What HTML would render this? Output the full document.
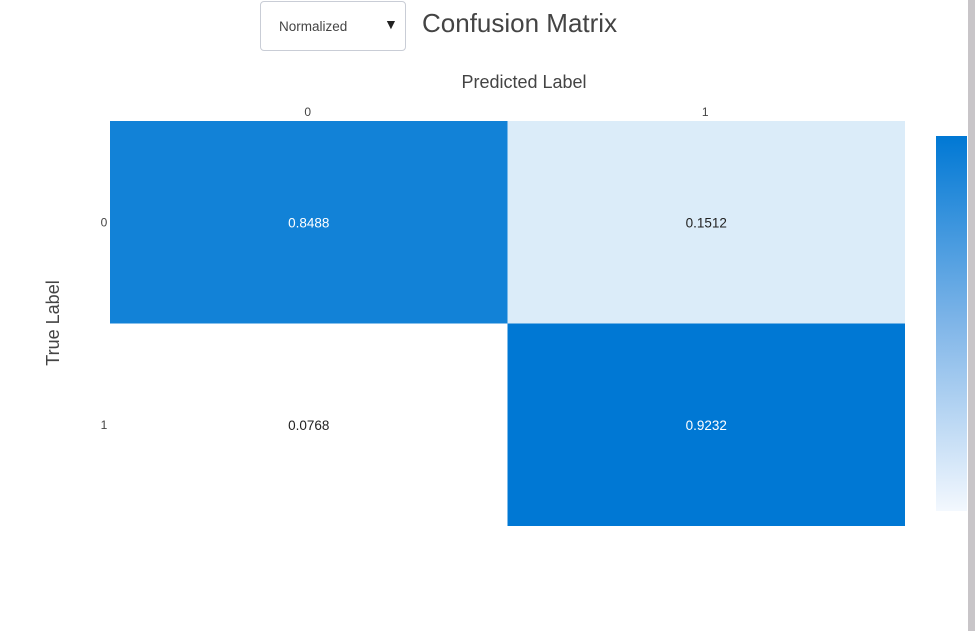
<!DOCTYPE html>
<html><head><meta charset="utf-8">
<style>
html,body{margin:0;padding:0;background:#fff;width:975px;height:631px;overflow:hidden;font-family:"Liberation Sans","DejaVu Sans",sans-serif;}
#dd{position:absolute;left:260px;top:1px;width:146px;height:50px;border:1px solid #c9cdd6;border-radius:4px;box-sizing:border-box;background:#fff;}
#dd span{position:absolute;left:18px;top:17px;font-size:13.5px;color:#444;}
#dd b{position:absolute;left:123px;top:14px;font-size:14px;color:#222;}
#title{position:absolute;left:422px;top:8px;font-size:26px;color:#444;}
#scroll{position:absolute;left:968px;top:0;width:7px;height:631px;background:#c8c5c8;}
svg{position:absolute;left:0;top:0;}
</style></head><body>
<div id="dd"><span>Normalized</span><b>▼</b></div>
<div id="title">Confusion Matrix</div>
<div id="scroll"></div>
<svg id="chart" width="975" height="631"></svg>
<script>
const xCategories=["0","1"];
const yCategories=["0","1"];
const row0=[0.8488,0.1512];
const row1=[0.0768,0.9232];
const values=[row0,row1];
const NS="http://www.w3.org/2000/svg";
const svg=document.getElementById('chart');
const X0=110,X1=905,Y0=121,Y1=526;
const cw=(X1-X0)/xCategories.length, ch=(Y1-Y0)/yCategories.length;
const xPos=i=>X0+i*cw, yPos=j=>Y0+j*ch;
const flat=values.flat(); const vmin=Math.min(...flat), vmax=Math.max(...flat);
const lo=[255,255,255], hi=[0,120,212];
function frac(v){return Math.pow((v-vmin)/((vmax-vmin)||1),0.8);}
function col(v){const t=frac(v);return `rgb(${lo.map((c,k)=>Math.round(c+(hi[k]-c)*t)).join(',')})`;}
function mk(tag,attrs,txt){const e=document.createElementNS(NS,tag);for(const k in attrs)e.setAttribute(k,attrs[k]);if(txt!=null)e.textContent=txt;svg.appendChild(e);return e;}
values.forEach((row,j)=>row.forEach((v,i)=>{
  const r=mk('rect',{x:xPos(i),y:yPos(j),width:cw,height:ch,fill:col(v)});
  
  
  const t=frac(v);
  const tx=mk('text',{x:xPos(i)+cw/2,y:yPos(j)+ch/2+5,'text-anchor':'middle','font-size':13.5,fill:t>0.5?'#fff':'#222'},v.toFixed(4));
  
  
}));
xCategories.forEach((c,i)=>{const t=mk('text',{x:xPos(i)+cw/2-1,y:116,'text-anchor':'middle','font-size':12,fill:'#444'},c);
  
  });
yCategories.forEach((c,j)=>{const t=mk('text',{x:104,y:yPos(j)+ch/2+4,'text-anchor':'middle','font-size':12,fill:'#444'},c);
  
  });
const xt=mk('text',{x:524,y:88,'text-anchor':'middle','font-size':18,fill:'#444'},'Predicted Label');


const yt=mk('text',{x:0,y:0,'text-anchor':'middle','font-size':18,fill:'#444',transform:'translate(59,323) rotate(-90)'},'True Label');


const defs=mk('defs',{});
const g=document.createElementNS(NS,'linearGradient');g.setAttribute('id','cb');g.setAttribute('x1','0');g.setAttribute('y1','1');g.setAttribute('x2','0');g.setAttribute('y2','0');
[[0,'#f3f8fe'],[0.5,'#7fb5e8'],[1,'#0078d4']].forEach(([o,c])=>{const s=document.createElementNS(NS,'stop');s.setAttribute('offset',o);s.setAttribute('stop-color',c);g.appendChild(s);});
defs.appendChild(g);
const cb=mk('rect',{x:936,y:136,width:31,height:375,fill:'url(#cb)'});


</script>
</body></html>
